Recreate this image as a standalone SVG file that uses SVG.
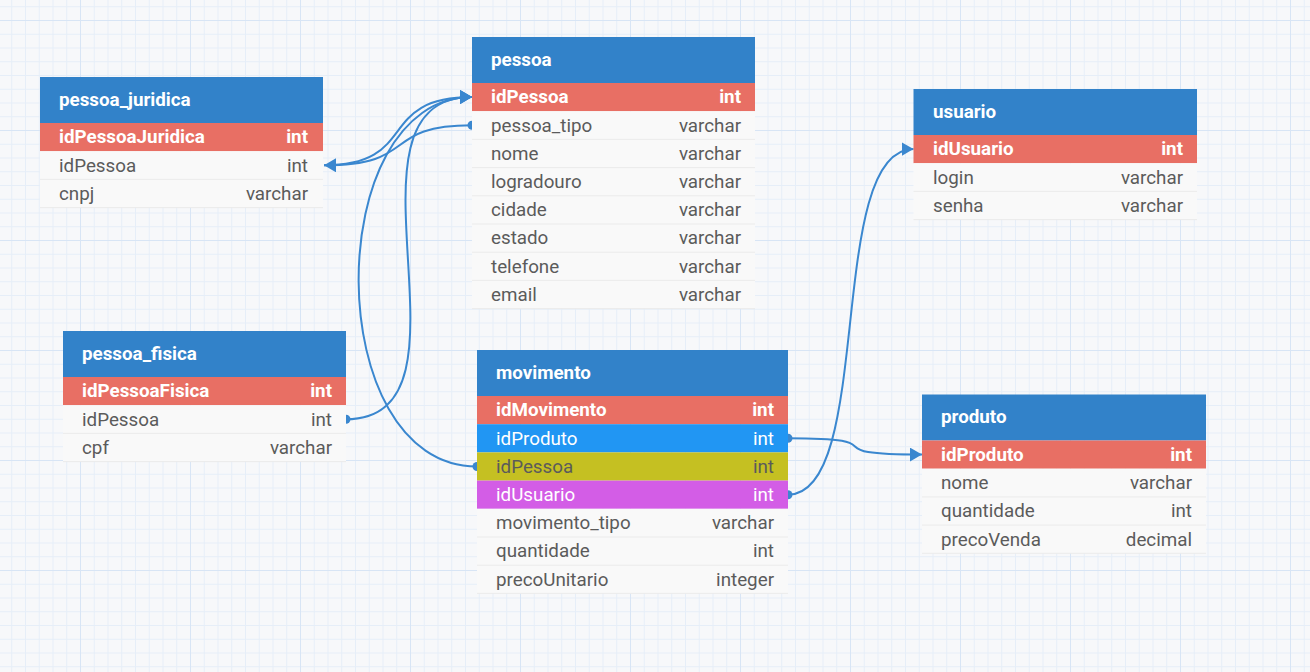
<svg xmlns="http://www.w3.org/2000/svg" width="1310" height="672" viewBox="0 0 1310 672">
<style>
.hdr{fill:#3282c9}
.ttl{font-family:Roboto,"Liberation Sans",sans-serif;font-size:18.8px;font-weight:bold;fill:#ffffff}
.row{fill:#f9f9f9}
.sep{stroke:#ebebeb;stroke-width:1}
.pk{fill:#e86f64}
.fk1{fill:#2196f3}
.fk2{fill:#c5c022}
.fk3{fill:#d35de6}
.nm{font-family:Roboto,"Liberation Sans",sans-serif;font-size:18.8px;fill:#5b5b5b}
.ty{font-family:Roboto,"Liberation Sans",sans-serif;font-size:18.8px;fill:#5b5b5b;text-anchor:end}
.b{font-weight:bold;fill:#ffffff}
.w{fill:#ffffff}
.con{fill:none;stroke:#3a87cf;stroke-width:2}
</style>
<defs>
<pattern id="gmin" width="13.75" height="13.75" patternUnits="userSpaceOnUse" x="-30" y="20">
<path d="M0,0.5 H13.75 M0.5,0 V13.75" stroke="#e6eef8" stroke-width="1" fill="none"/>
</pattern>
<pattern id="gmaj" width="110" height="110" patternUnits="userSpaceOnUse" x="-30" y="20">
<path d="M0,0.5 H110 M0.5,0 V110" stroke="#d8e5f5" stroke-width="1" fill="none"/>
</pattern>
<marker id="arr" viewBox="0 0 12 14" refX="12" refY="7" markerWidth="12" markerHeight="14" markerUnits="userSpaceOnUse" orient="auto">
<path d="M0,0 L12,7 L0,14 z" fill="#3a87cf"/>
</marker>
<marker id="dot" viewBox="0 0 10 10" refX="5" refY="5" markerWidth="10" markerHeight="10" markerUnits="userSpaceOnUse" orient="auto">
<circle cx="5" cy="5" r="4.5" fill="#3a87cf"/>
</marker>
</defs>
<rect width="1310" height="672" fill="#f7f8fa"/>
<rect width="1310" height="672" fill="url(#gmin)"/>
<rect width="1310" height="672" fill="url(#gmaj)"/>

<g id="connectors">
<path class="con" d="M324,165.3 C420,165.3 375,97.1 472,97.1" marker-end="url(#arr)"/>
<path class="con" d="M472,125.3 C380,125.3 420,165.3 324,165.3" marker-start="url(#dot)" marker-end="url(#arr)"/>
<path class="con" d="M477,466.5 C320,466.5 320,97.1 472,97.1" marker-start="url(#dot)" marker-end="url(#arr)"/>
<path class="con" d="M346,419.3 C490,419.3 325,97.1 472,97.1" marker-start="url(#dot)" marker-end="url(#arr)"/>
<path class="con" d="M788,438.3 C905,438.3 805,454.6 922,454.6" marker-start="url(#dot)" marker-end="url(#arr)"/>
<path class="con" d="M788,494.7 C875,494.7 825,149.1 913.5,149.1" marker-start="url(#dot)" marker-end="url(#arr)"/>
</g>

<g id="pessoa_juridica">
<rect class="hdr" x="40" y="77" width="283" height="46"/>
<text class="ttl" x="59" y="105.5">pessoa_juridica</text>
<rect class="pk" x="40" y="123" width="283" height="28.2"/>
<text class="nm b" x="59" y="143.4">idPessoaJuridica</text><text class="ty b" x="308" y="143.4">int</text>
<rect class="row" x="40" y="151.2" width="283" height="56.4"/>
<line class="sep" x1="40" y1="179.4" x2="323" y2="179.4"/>
<line class="sep" x1="40" y1="207.6" x2="323" y2="207.6"/>
<text class="nm" x="59" y="171.6">idPessoa</text><text class="ty" x="308" y="171.6">int</text>
<text class="nm" x="59" y="199.8">cnpj</text><text class="ty" x="308" y="199.8">varchar</text>
</g>

<g id="pessoa">
<rect class="hdr" x="472" y="37" width="283" height="46"/>
<text class="ttl" x="491" y="65.5">pessoa</text>
<rect class="pk" x="472" y="83" width="283" height="28.2"/>
<text class="nm b" x="491" y="103.4">idPessoa</text><text class="ty b" x="741" y="103.4">int</text>
<rect class="row" x="472" y="111.2" width="283" height="197.4"/>
<line class="sep" x1="472" y1="139.4" x2="755" y2="139.4"/>
<line class="sep" x1="472" y1="167.6" x2="755" y2="167.6"/>
<line class="sep" x1="472" y1="195.8" x2="755" y2="195.8"/>
<line class="sep" x1="472" y1="224" x2="755" y2="224"/>
<line class="sep" x1="472" y1="252.2" x2="755" y2="252.2"/>
<line class="sep" x1="472" y1="280.4" x2="755" y2="280.4"/>
<line class="sep" x1="472" y1="308.6" x2="755" y2="308.6"/>
<text class="nm" x="491" y="131.6">pessoa_tipo</text><text class="ty" x="741" y="131.6">varchar</text>
<text class="nm" x="491" y="159.8">nome</text><text class="ty" x="741" y="159.8">varchar</text>
<text class="nm" x="491" y="188">logradouro</text><text class="ty" x="741" y="188">varchar</text>
<text class="nm" x="491" y="216.2">cidade</text><text class="ty" x="741" y="216.2">varchar</text>
<text class="nm" x="491" y="244.4">estado</text><text class="ty" x="741" y="244.4">varchar</text>
<text class="nm" x="491" y="272.6">telefone</text><text class="ty" x="741" y="272.6">varchar</text>
<text class="nm" x="491" y="300.8">email</text><text class="ty" x="741" y="300.8">varchar</text>
</g>

<g id="usuario">
<rect class="hdr" x="913.5" y="89" width="283.5" height="46"/>
<text class="ttl" x="933" y="117.5">usuario</text>
<rect class="pk" x="913.5" y="135" width="283.5" height="28.2"/>
<text class="nm b" x="933" y="155.4">idUsuario</text><text class="ty b" x="1183" y="155.4">int</text>
<rect class="row" x="913.5" y="163.2" width="283.5" height="56.4"/>
<line class="sep" x1="913.5" y1="191.4" x2="1197" y2="191.4"/>
<line class="sep" x1="913.5" y1="219.6" x2="1197" y2="219.6"/>
<text class="nm" x="933" y="183.6">login</text><text class="ty" x="1183" y="183.6">varchar</text>
<text class="nm" x="933" y="211.8">senha</text><text class="ty" x="1183" y="211.8">varchar</text>
</g>

<g id="pessoa_fisica">
<rect class="hdr" x="63" y="331" width="283" height="46"/>
<text class="ttl" x="82" y="359.5">pessoa_fisica</text>
<rect class="pk" x="63" y="377" width="283" height="28.2"/>
<text class="nm b" x="82" y="397.4">idPessoaFisica</text><text class="ty b" x="332" y="397.4">int</text>
<rect class="row" x="63" y="405.2" width="283" height="56.4"/>
<line class="sep" x1="63" y1="433.4" x2="346" y2="433.4"/>
<line class="sep" x1="63" y1="461.6" x2="346" y2="461.6"/>
<text class="nm" x="82" y="425.6">idPessoa</text><text class="ty" x="332" y="425.6">int</text>
<text class="nm" x="82" y="453.8">cpf</text><text class="ty" x="332" y="453.8">varchar</text>
</g>

<g id="movimento">
<rect class="hdr" x="477" y="350" width="311" height="46"/>
<text class="ttl" x="496" y="378.5">movimento</text>
<rect class="pk" x="477" y="396" width="311" height="28.2"/>
<text class="nm b" x="496" y="416.4">idMovimento</text><text class="ty b" x="774" y="416.4">int</text>
<rect class="fk1" x="477" y="424.2" width="311" height="28.2"/>
<text class="nm w" x="496" y="444.6">idProduto</text><text class="ty w" x="774" y="444.6">int</text>
<rect class="fk2" x="477" y="452.4" width="311" height="28.2"/>
<text class="nm" x="496" y="472.8">idPessoa</text><text class="ty" x="774" y="472.8">int</text>
<rect class="fk3" x="477" y="480.6" width="311" height="28.2"/>
<text class="nm w" x="496" y="501">idUsuario</text><text class="ty w" x="774" y="501">int</text>
<rect class="row" x="477" y="508.8" width="311" height="84.6"/>
<line class="sep" x1="477" y1="537" x2="788" y2="537"/>
<line class="sep" x1="477" y1="565.2" x2="788" y2="565.2"/>
<line class="sep" x1="477" y1="593.4" x2="788" y2="593.4"/>
<text class="nm" x="496" y="529.2">movimento_tipo</text><text class="ty" x="774" y="529.2">varchar</text>
<text class="nm" x="496" y="557.4">quantidade</text><text class="ty" x="774" y="557.4">int</text>
<text class="nm" x="496" y="585.6">precoUnitario</text><text class="ty" x="774" y="585.6">integer</text>
</g>

<g id="produto">
<rect class="hdr" x="922" y="394.5" width="284" height="46"/>
<text class="ttl" x="941" y="423">produto</text>
<rect class="pk" x="922" y="440.5" width="284" height="28.2"/>
<text class="nm b" x="941" y="460.9">idProduto</text><text class="ty b" x="1192" y="460.9">int</text>
<rect class="row" x="922" y="468.7" width="284" height="84.6"/>
<line class="sep" x1="922" y1="496.9" x2="1206" y2="496.9"/>
<line class="sep" x1="922" y1="525.1" x2="1206" y2="525.1"/>
<line class="sep" x1="922" y1="553.3" x2="1206" y2="553.3"/>
<text class="nm" x="941" y="489.1">nome</text><text class="ty" x="1192" y="489.1">varchar</text>
<text class="nm" x="941" y="517.3">quantidade</text><text class="ty" x="1192" y="517.3">int</text>
<text class="nm" x="941" y="545.5">precoVenda</text><text class="ty" x="1192" y="545.5">decimal</text>
</g>
</svg>
